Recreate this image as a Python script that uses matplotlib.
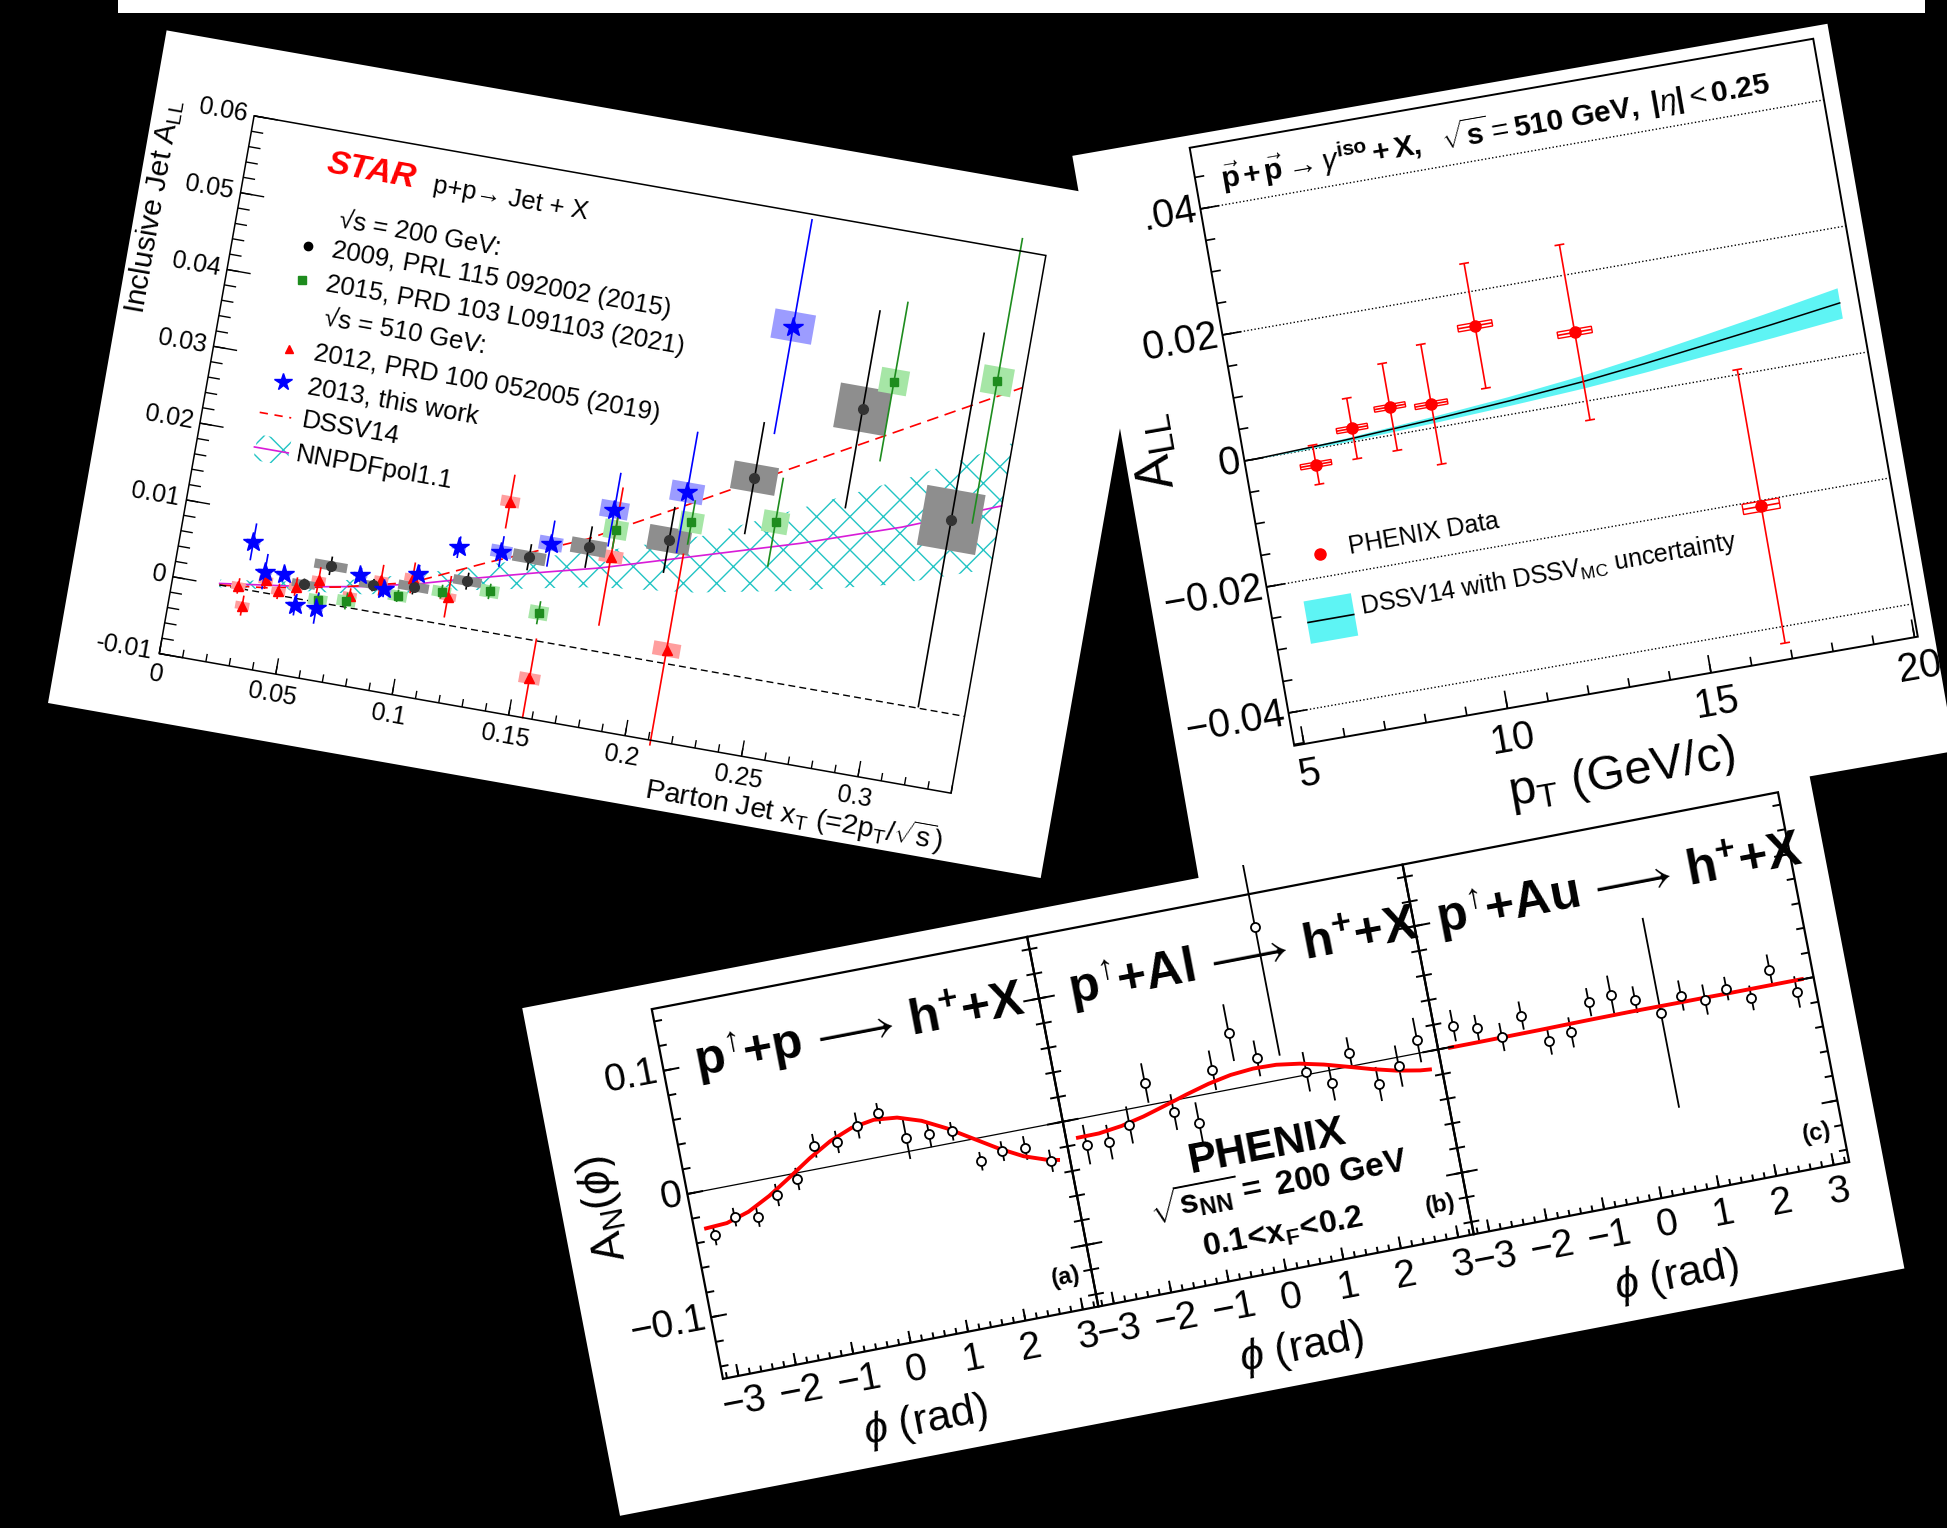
import numpy as np
import matplotlib
matplotlib.use("Agg")
import matplotlib.pyplot as plt
from matplotlib.transforms import Affine2D
from matplotlib.patches import Rectangle
from matplotlib.collections import LineCollection

# ---------------- STAR: inclusive jet A_LL vs parton jet x_T ----------------
star_xlim = (0.0, 0.34)
star_ylim = (-0.01, 0.06)
star_xticks = [0.0, 0.05, 0.10, 0.15, 0.20, 0.25, 0.30]
star_xticklabels = ['0', '0.05', '0.1', '0.15', '0.2', '0.25', '0.3']
star_yticks = [-0.01, 0.0, 0.01, 0.02, 0.03, 0.04, 0.05, 0.06]
star_yticklabels = ['-0.01', '0', '0.01', '0.02', '0.03', '0.04', '0.05', '0.06']

# 2009, 200 GeV (black, grey boxes)
jet09_x = [0.055, 0.065, 0.084, 0.101, 0.123, 0.147, 0.171, 0.204, 0.235, 0.275, 0.320]
jet09_y = [0.0020, 0.0049, 0.0034, 0.0041, 0.0060, 0.0104, 0.0130, 0.0157, 0.0254, 0.0365, 0.0245]
jet09_err = [0.0007, 0.0012, 0.0008, 0.0010, 0.0011, 0.0017, 0.0027, 0.0043, 0.0073, 0.0129, 0.0244]
jet09_sys_x = [0.005, 0.007, 0.006, 0.0065, 0.006, 0.007, 0.0075, 0.009, 0.0095, 0.011, 0.0125]
jet09_sys_y = [0.0005, 0.0006, 0.0005, 0.0006, 0.0006, 0.0008, 0.0010, 0.0016, 0.0018, 0.0029, 0.0039]

# 2015, 200 GeV (green)
jet15_x = [0.062, 0.074, 0.095, 0.113, 0.133, 0.155, 0.181, 0.212, 0.247, 0.286, 0.329]
jet15_y = [0.0003, 0.0008, 0.0026, 0.0041, 0.0052, 0.0036, 0.0158, 0.0184, 0.0203, 0.0407, 0.0431]
jet15_err = [0.0010, 0.0011, 0.0008, 0.0009, 0.0010, 0.0015, 0.0025, 0.0029, 0.0058, 0.0104, 0.0186]
jet15_sys_x = [0.004, 0.004, 0.004, 0.004, 0.004, 0.004, 0.005, 0.005, 0.0055, 0.006, 0.0065]
jet15_sys_y = [0.0007, 0.0007, 0.0007, 0.0007, 0.0008, 0.0009, 0.0012, 0.0013, 0.0014, 0.0016, 0.0018]

# 2012, 510 GeV (red)
jet12_x = [0.028, 0.031, 0.039, 0.045, 0.052, 0.061, 0.075, 0.087, 0.100, 0.116, 0.135, 0.156, 0.181, 0.211]
jet12_y = [0.0003, -0.0021, 0.0016, 0.0005, 0.0015, 0.0028, 0.0015, 0.0042, 0.0052, 0.0036, 0.0170, -0.0049, 0.0123, 0.0018]
jet12_err = [0.0010, 0.0013, 0.0011, 0.0010, 0.0012, 0.0017, 0.0010, 0.0020, 0.0020, 0.0027, 0.0035, 0.0052, 0.0090, 0.0125]
jet12_sys_x = [0.003, 0.003, 0.003, 0.003, 0.003, 0.003, 0.003, 0.003, 0.0035, 0.0035, 0.004, 0.0045, 0.005, 0.0058]
jet12_sys_y = [0.0005, 0.0005, 0.0005, 0.0005, 0.0005, 0.0005, 0.0005, 0.0005, 0.0005, 0.0005, 0.0007, 0.0007, 0.0008, 0.0009]

# 2013, 510 GeV, this work (blue stars)
jet13_x = [0.031, 0.038, 0.046, 0.053, 0.062, 0.078, 0.089, 0.102, 0.117, 0.135, 0.155, 0.179, 0.208, 0.240]
jet13_y = [0.0062, 0.0027, 0.0028, -0.0008, -0.0008, 0.0044, 0.0031, 0.0058, 0.0101, 0.0105, 0.0126, 0.0183, 0.0221, 0.0454]
jet13_err = [0.0024, 0.0023, 0.0010, 0.0014, 0.0020, 0.0009, 0.0010, 0.0012, 0.0014, 0.0020, 0.0030, 0.0048, 0.0079, 0.0140]
jet13_sys_x = [0.003, 0.003, 0.003, 0.003, 0.003, 0.003, 0.003, 0.003, 0.003, 0.0045, 0.005, 0.006, 0.007, 0.0087]
jet13_sys_y = [0.0003, 0.0003, 0.0003, 0.0003, 0.0003, 0.0003, 0.0003, 0.0003, 0.0003, 0.0008, 0.0009, 0.0011, 0.0013, 0.0019]

# theory curves
dssv_x = [0.02, 0.04, 0.07, 0.10, 0.13, 0.17, 0.21, 0.25, 0.30, 0.34]
dssv_y = [0.0, 0.0007, 0.0024, 0.0046, 0.0088, 0.0140, 0.0207, 0.0275, 0.0360, 0.0428]
nnpdf_x = [0.02, 0.058, 0.08, 0.103, 0.118, 0.155, 0.177, 0.218, 0.259, 0.30, 0.34]
nnpdf_y = [0.0002, 0.0018, 0.0030, 0.0046, 0.0059, 0.0089, 0.0106, 0.0144, 0.0182, 0.0225, 0.0274]
nnpdf_lo = [-0.0003, 0.0012, 0.0020, 0.0033, 0.0045, 0.0068, 0.0081, 0.0096, 0.0120, 0.0150, 0.0192]
nnpdf_hi = [0.0007, 0.0024, 0.0040, 0.0060, 0.0073, 0.0110, 0.0128, 0.0170, 0.0230, 0.0290, 0.0356]
zero_x = [0.02, 0.34]
zero_y = [0.0, 0.0]

# ---------------- PHENIX: direct photon A_LL vs pT ----------------
all_xlim = (4.76, 20.08)
all_ylim = (-0.0452, 0.0497)
all_xticks = [5, 10, 15, 20]
all_xticklabels = ['5', '10', '15', '20']
all_yticks = [-0.04, -0.02, 0.0, 0.02, 0.04]
all_yticklabels = ['\u22120.04', '\u22120.02', '0', '0.02', '.04']
phenix_pt = [6.45, 7.46, 8.45, 9.45, 10.82, 13.17, 16.89]
phenix_all = [-0.0025, 0.0021, 0.0044, 0.0037, 0.0146, 0.0109, -0.0209]
phenix_stat = [0.0031, 0.0048, 0.0069, 0.0095, 0.0099, 0.0139, 0.0217]
phenix_halfbin = [0.38, 0.38, 0.38, 0.40, 0.42, 0.42, 0.45]
phenix_sys = [0.0004, 0.0004, 0.0004, 0.0004, 0.0005, 0.0005, 0.0008]
dssv14_pt = [5.0, 7.25, 9.45, 11.3, 13.16, 14.7, 16.18, 17.9, 19.61]
dssv14_all = [0.0, 0.0005, 0.0013, 0.0021, 0.0031, 0.0042, 0.0054, 0.0068, 0.0083]
dssv14_unc = [0.0, 0.0003, 0.0005, 0.0007, 0.0010, 0.0013, 0.0016, 0.0020, 0.0024]

# ---------------- PHENIX: A_N(phi) in p+p, p+Al, p+Au ----------------
an_xlim = (-3.27, 3.27)
an_ylim = (-0.15, 0.15)
an_xticks = [-3, -2, -1, 0, 1, 2, 3]
an_xticklabels = ['\u22123', '\u22122', '\u22121', '0', '1', '2', '3']
an_yticks = [-0.1, 0.0, 0.1]
an_yticklabels = ['\u22120.1', '0', '0.1']
phi_bins = [-2.945, -2.553, -2.160, -1.767, -1.374, -0.982, -0.589, -0.196,
            0.196, 0.589, 0.982, 1.374, 1.767, 2.160, 2.553, 2.945]
an_pp = [-0.0364, -0.0252, -0.0286, -0.0143, -0.0048, 0.0186, 0.0182, 0.0280,
         0.0343, 0.0108, 0.0103, 0.0092, -0.0186, -0.0139, -0.0149, -0.0288]
an_pp_err = [0.0081, 0.0075, 0.0080, 0.0090, 0.0090, 0.0096, 0.0090, 0.0105,
             0.0084, 0.0170, 0.0105, 0.0075, 0.0075, 0.0080, 0.0096, 0.0090]
an_pal = [-0.0215, -0.0230, -0.0126, 0.0179, -0.0092, -0.0214, 0.0177, 0.0447,
          0.0203, 0.1230, 0.0024, -0.0106, 0.0108, -0.0181, -0.0071, 0.0105]
an_pal_err = [0.0160, 0.0140, 0.0150, 0.0160, 0.0145, 0.0166, 0.0160, 0.0230,
              0.0145, 0.1040, 0.0160, 0.0138, 0.0125, 0.0138, 0.0167, 0.0180]
an_pau = [0.0164, 0.0107, 0.0001, 0.0140, -0.0104, -0.0067, 0.0143, 0.0169,
          0.0093, -0.0049, 0.0056, -0.0012, 0.0042, -0.0069, 0.0126, -0.0091]
an_pau_err = [0.0127, 0.0108, 0.0114, 0.0114, 0.0108, 0.0122, 0.0114, 0.0154,
              0.0108, 0.0770, 0.0122, 0.0122, 0.0095, 0.0100, 0.0122, 0.0127]
fit_phi = [-3.1, -2.7, -2.3, -1.9, -1.5, -1.1, -0.7, -0.3, 0.1, 0.5, 0.9, 1.3, 1.7, 2.1, 2.5, 2.9, 3.1]
fit_pp = [-0.0298, -0.0287, -0.0231, -0.0138, -0.0024, 0.0095, 0.0198, 0.0270, 0.0300,
          0.0282, 0.0220, 0.0123, 0.0006, -0.0111, -0.0211, -0.0277, -0.0295]
fit_pal = [-0.0148, -0.0146, -0.0122, -0.0081, -0.0028, 0.0027, 0.0077, 0.0113, 0.0129,
           0.0124, 0.0097, 0.0054, 0.0000, -0.0055, -0.0103, -0.0137, -0.0146]
fit_pau = [-0.0004, -0.0004, -0.0003, -0.0002, -0.0001, 0.0001, 0.0003, 0.0004, 0.0005,
           0.0004, 0.0003, 0.0003, 0.0002, 0.0002, 0.0002, 0.0002, 0.0002]

plt.rcParams['font.family'] = ['Liberation Sans', 'DejaVu Sans']
plt.rcParams['mathtext.fontset'] = 'custom'
plt.rcParams['mathtext.rm'] = 'Liberation Sans'
plt.rcParams['mathtext.it'] = 'Liberation Sans:italic'
plt.rcParams['mathtext.bf'] = 'Liberation Sans:bold'
plt.rcParams['hatch.linewidth'] = 1.0

W, H = 1947, 1528
fig = plt.figure(figsize=(W / 100, H / 100), dpi=100, facecolor='black')
ax = fig.add_axes([0, 0, 1, 1])
ax.set_xlim(0, W)
ax.set_ylim(H, 0)
ax.set_autoscale_on(False)
ax.axis('off')


class Sheet:
    """white page laid on the black board, turned by angle (deg, ccw)"""

    def __init__(self, corner, angle, size, z):
        a = np.radians(angle)
        c, s = np.cos(a), np.sin(a)
        m = np.array([[c, -s, corner[0]], [-s, -c, corner[1]], [0.0, 0.0, 1.0]])
        self.tr = Affine2D(m) + ax.transData
        self.angle = angle
        self.z = z
        self.page = Rectangle((0, 0), size[0], size[1], transform=self.tr,
                              facecolor='white', edgecolor='none', zorder=z)
        ax.add_patch(self.page)

    def text(self, u, v, s, size, rot=0, ha='left', va='center', **kw):
        t = ax.text(u, v, s, transform=self.tr, rotation=self.angle + rot,
                    rotation_mode='anchor', fontsize=size, ha=ha, va=va,
                    zorder=self.z + 7, clip_on=True, **kw)
        t.set_clip_path(self.page)
        return t

    def segs(self, segments, color='black', lw=1.0, z=6, **kw):
        lc = LineCollection(segments, colors=color, linewidths=lw,
                            transform=self.tr, zorder=self.z + z, **kw)
        ax.add_collection(lc)
        lc.set_clip_path(self.page)
        return lc

    def mark(self, u, v, **kw):
        ln, = ax.plot([u], [v], transform=self.tr, zorder=self.z + 7, ls='none', **kw)
        ln.set_clip_path(self.page)

    def patch(self, p):
        p.set_transform(self.tr)
        p.set_zorder(self.z + 6)
        ax.add_patch(p)
        p.set_clip_path(self.page)


class Frame:
    def __init__(self, sheet, box, xlim, ylim):
        self.sh = sheet
        self.l, self.b, self.w, self.h = box
        self.xlim, self.ylim = xlim, ylim
        self.kx = self.w / (xlim[1] - xlim[0])
        self.ky = self.h / (ylim[1] - ylim[0])
        self.tr = (Affine2D().translate(-xlim[0], -ylim[0]).scale(self.kx, self.ky)
                   .translate(self.l, self.b) + sheet.tr)
        self.clip = Rectangle((self.l, self.b), self.w, self.h, transform=sheet.tr)

    def u(self, x):
        return self.l + (x - self.xlim[0]) * self.kx

    def v(self, y):
        return self.b + (y - self.ylim[0]) * self.ky

    def plot(self, x, y, z=3, **kw):
        ln, = ax.plot(x, y, transform=self.tr, zorder=self.sh.z + z, **kw)
        ln.set_clip_path(self.clip)
        return ln

    def errs(self, x, y, e, color, lw, z=2, cap=0.0):
        x, y, e = (np.asarray(a, float) for a in (x, y, e))
        lc = ax.vlines(x, y - e, y + e, colors=color, linewidths=lw,
                       transform=self.tr, zorder=self.sh.z + z)
        lc.set_clip_path(self.clip)
        if cap:
            for yy in (y - e, y + e):
                hc = ax.hlines(yy, x - cap, x + cap, colors=color, linewidths=lw,
                               transform=self.tr, zorder=self.sh.z + z)
                hc.set_clip_path(self.clip)

    def boxes(self, x, y, hx, hy, z=1, **kw):
        for xi, yi, a, b in zip(x, y, hx, hy):
            r = Rectangle((xi - a, yi - b), 2 * a, 2 * b, transform=self.tr,
                          zorder=self.sh.z + z, **kw)
            ax.add_patch(r)
            r.set_clip_path(self.clip)

    def border(self, lw):
        ax.add_patch(Rectangle((self.l, self.b), self.w, self.h, transform=self.sh.tr,
                               fill=False, edgecolor='black', linewidth=lw,
                               zorder=self.sh.z + 6))

    def xticks(self, major, minor, lmaj, lmin, lw):
        segs = [[(self.u(x), self.b), (self.u(x), self.b + lmaj)] for x in major]
        segs += [[(self.u(x), self.b), (self.u(x), self.b + lmin)] for x in minor]
        self.sh.segs(segs, lw=lw)

    def yticks(self, major, minor, lmaj, lmin, lw, right=False):
        segs = []
        for vals, L in ((major, lmaj), (minor, lmin)):
            for y in vals:
                segs.append([(self.l, self.v(y)), (self.l + L, self.v(y))])
                if right:
                    r = self.l + self.w
                    segs.append([(r, self.v(y)), (r - L, self.v(y))])
        self.sh.segs(segs, lw=lw)


# ======================= STAR panel =======================
star = Sheet((48, 703), -10.0, (1008, 683), 10)
fs = Frame(star, (101, 68, 804, 546), star_xlim, star_ylim)

hatch = ax.fill_between(nnpdf_x, nnpdf_lo, nnpdf_hi, transform=fs.tr, facecolor='none',
                        edgecolor='#22C4C4', hatch='x', linewidth=0, zorder=star.z + 1)
hatch.set_clip_path(fs.clip)
fs.plot(nnpdf_x, nnpdf_y, color='#D81CD8', lw=1.2, z=2)
fs.plot(dssv_x, dssv_y, color='red', lw=1.2, ls=(0, (7, 4)), z=2)
fs.plot(zero_x, zero_y, color='black', lw=1.0, ls=(0, (5, 3)), z=2)

star_sets = [
    (jet12_x, jet12_y, jet12_err, jet12_sys_x, jet12_sys_y, '#FF9E9E', 'red', '^', 7, 'red'),
    (jet09_x, jet09_y, jet09_err, jet09_sys_x, jet09_sys_y, '#8E8E8E', 'black', 'o', 7, '#333333'),
    (jet15_x, jet15_y, jet15_err, jet15_sys_x, jet15_sys_y, '#A6E6A6', '#1E8C1E', 's', 6, '#1E8C1E'),
    (jet13_x, jet13_y, jet13_err, jet13_sys_x, jet13_sys_y, '#9C9CFF', 'blue', '*', 15, 'blue'),
]
for x, y, e, sx, sy, bc, lc, mk, ms, mc in star_sets:
    fs.boxes(x, y, sx, sy, z=3, facecolor=bc, edgecolor='none')
for x, y, e, sx, sy, bc, lc, mk, ms, mc in star_sets:
    fs.errs(x, y, e, lc, 1.2, z=4)
    fs.plot(x, y, z=5, ls='none', marker=mk, ms=ms, color=mc, mec=mc)

fs.border(1.1)
fs.xticks(star_xticks, np.arange(0, 0.3401, 0.01), 16, 8, 1.0)
fs.yticks(star_yticks, np.arange(-0.01, 0.0601, 0.002), 24, 12, 1.0)
for x, s in zip(star_xticks, star_xticklabels):
    star.text(fs.u(x), 47, s, 18, ha='center')
for y, s in zip(star_yticks, star_yticklabels):
    star.text(94, fs.v(y), s, 18, ha='right')
star.text(26, 616, r'Inclusive Jet A$_{\mathrm{LL}}$', 21.5, rot=90, ha='right', va='baseline')
star.text(905, 20, r'Parton Jet x$_{\mathrm{T}}$ (=2p$_{\mathrm{T}}$/$\sqrt{\mathrm{s}}$)', 20.5,
          ha='right')

star.text(181, 580, 'STAR', 24.5, color='red', weight='bold', style='italic')
star.text(289, 577, 'p+p\u2192 Jet + X', 18.5)
star.text(203, 526, '\u221as = 200 GeV:', 18.5)
star.mark(177, 495, marker='o', color='black', ms=6)
star.text(201, 495, '2009, PRL 115 092002 (2015)', 18.5)
star.mark(177, 461, marker='s', color='#1E8C1E', ms=6)
star.text(201, 461, '2015, PRD 103 L091103 (2021)', 18.5)
star.text(205, 427, '\u221as = 510 GeV:', 18.5)
star.mark(176, 391, marker='^', color='red', ms=6)
star.text(201, 391, '2012, PRD 100 052005 (2019)', 18.5)
star.mark(176, 357, marker='*', color='blue', ms=13)
star.text(201, 357, '2013, this work', 18.5)
star.segs([[(158, 323), (190, 323)]], color='red', lw=1.2, linestyles=[(0, (5, 4))])
star.text(201, 323, 'DSSV14', 18.5)
star.patch(Rectangle((160, 275), 34, 26, fill=False, hatch='x', edgecolor='#22C4C4', linewidth=0))
star.segs([[(158, 288), (194, 288)]], color='#D81CD8', lw=1.2)
star.text(201, 288, 'NNPDFpol1.1', 18.5)

# ======================= PHENIX A_LL panel =======================
phx = Sheet((1199.5, 883.1), 9.92, (766.6, 738.3), 20)
fp = Frame(phx, (117, 119, 633, 607), all_xlim, all_ylim)
for y in all_yticks:
    fp.plot(all_xlim, [y, y], color='black', lw=1.0, ls=(0, (1, 1.6)), z=1)
lo = np.subtract(dssv14_all, dssv14_unc)
hi = np.add(dssv14_all, dssv14_unc)
band = ax.fill_between(dssv14_pt, lo, hi, transform=fp.tr, color='#5EF4F4', linewidth=0,
                       zorder=phx.z + 2)
band.set_clip_path(fp.clip)
fp.plot(dssv14_pt, dssv14_all, color='black', lw=1.1, z=3)
fp.errs(phenix_pt, phenix_all, phenix_stat, 'red', 1.2, z=4, cap=0.12)
hb = ax.hlines(phenix_all, np.subtract(phenix_pt, phenix_halfbin), np.add(phenix_pt, phenix_halfbin),
               colors='red', linewidths=1.2, transform=fp.tr, zorder=phx.z + 4)
hb.set_clip_path(fp.clip)
fp.boxes(phenix_pt, phenix_all, phenix_halfbin, phenix_sys, z=4, fill=False,
         edgecolor='red', linewidth=1.0)
fp.plot(phenix_pt, phenix_all, z=5, ls='none', marker='o', ms=8, color='red')

fp.border(1.4)
fp.xticks(all_xticks, np.arange(5, 20.5, 1), 18, 9, 1.2)
fp.yticks(all_yticks, np.arange(-0.045, 0.0451, 0.005), 19, 9.5, 1.2)
for x, s in zip(all_xticks, all_xticklabels):
    phx.text(fp.u(x), 88, s, 28.5, ha='center')
for y, s in zip(all_yticks, all_yticklabels):
    phx.text(113, fp.v(y), s, 28.5, ha='right')
phx.text(44, 432, r'A$_{\mathrm{LL}}$', 37, rot=90, ha='center', va='baseline')
phx.text(435, 22, r'p$_{\mathrm{T}}$ (GeV/c)', 35, ha='center', va='baseline')
phx.text(142, 680,
         r'$\vec{\mathbf{p}}\,\mathbf{+}\,\vec{\mathbf{p}}\rightarrow\gamma^{\mathbf{iso}}\,'
         r'\mathbf{+}\,\mathbf{X,}\ \ \sqrt{\mathbf{s}}=\mathbf{510\ GeV,}\ '
         r'\mathbf{|}\eta\mathbf{|}<\mathbf{0.25}$',
         21.5, va='baseline')
phx.mark(175, 303, marker='o', color='red', ms=8)
phx.text(205, 305, 'PHENIX Data', 18)
phx.patch(Rectangle((151, 216.5), 48, 43, facecolor='#5EF4F4', edgecolor='none'))
phx.segs([[(151, 238), (199, 238)]], color='black', lw=1.2, z=7)
phx.text(206, 244, r'DSSV14 with DSSV$_{\mathrm{MC}}$ uncertainty', 18)

# ======================= PHENIX A_N(phi) panel =======================
an = Sheet((620, 1515.8), 10.9, (1308, 517), 30)
frame_left = [127, 509.3, 891.6]
frames = [Frame(an, (l, 115, 382.3, 376.5), an_xlim, an_ylim) for l in frame_left]
an_sets = [
    (an_pp, an_pp_err, fit_pp,
     r'$\mathbf{p}^{\!\uparrow}\!\mathbf{+p}\,\longrightarrow\,\mathbf{h}^{\mathbf{+}}\mathbf{+X}$', '(a)', 159),
    (an_pal, an_pal_err, fit_pal,
     r'$\mathbf{p}^{\!\uparrow}\!\mathbf{+Al}\,\longrightarrow\,\mathbf{h}^{\mathbf{+}}\mathbf{+X}$', '(b)', 540),
    (an_pau, an_pau_err, fit_pau,
     r'$\mathbf{p}^{\!\uparrow}\!\mathbf{+Au}\,\longrightarrow\,\mathbf{h}^{\mathbf{+}}\mathbf{+X}$', '(c)', 915),
]
for fr, (vals, errs, fit, title, tag, tu) in zip(frames, an_sets):
    fr.plot(an_xlim, [0, 0], color='black', lw=0.9, z=1)
    fr.errs(phi_bins, vals, errs, 'black', 1.3, z=2)
    fr.plot(fit_phi, fit, color='red', lw=2.8, z=3, solid_capstyle='butt')
    fr.plot(phi_bins, vals, z=4, ls='none', marker='o', ms=6.5, mfc='white', mec='black', mew=1.3)
    fr.border(1.6)
    fr.xticks(an_xticks, np.arange(-3.2, 3.201, 0.2), 12, 6, 1.4)
    fr.yticks(an_yticks, np.arange(-0.14, 0.1401, 0.02), 16, 8, 1.4, right=True)
    for x, s in zip(an_xticks, an_xticklabels):
        an.text(fr.u(x), 87, s, 28, ha='center')
    an.text(tu, 430, title, 36)
    an.text(fr.l + fr.w - 12, 150, tag, 17, ha='right', weight='bold')
    an.text(fr.l + fr.w / 2, 35, r'$\phi$ (rad)', 31, ha='center')

for y, s in zip(an_yticks, an_yticklabels):
    an.text(121, frames[0].v(y), s, 28, ha='right')
an.text(42, 305, r'A$_{\mathrm{N}}$($\phi$)', 32, rot=90, ha='center')
an.text(705, 240, 'PHENIX', 31, ha='center', weight='bold')
an.text(709, 202, r'$\sqrt{\mathbf{s}_{\mathbf{NN}}}\mathbf{=\ 200\ GeV}$', 24, ha='center')
an.text(705, 152, r'$\mathbf{0.1\!<\!x_{F}\!<\!0.2}$', 23, ha='center')

# white strip along the top edge
ax.add_patch(Rectangle((118, 0), 1807, 12.5, facecolor='white', edgecolor='none', zorder=60))

fig.savefig('out.png', dpi=100, facecolor='black')
